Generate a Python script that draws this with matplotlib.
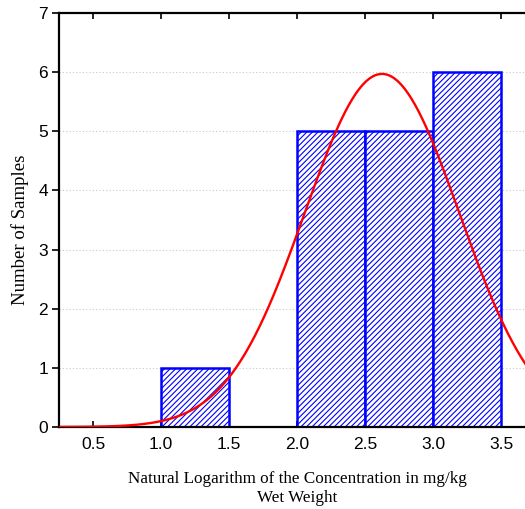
import numpy as np
import matplotlib
matplotlib.use('Agg')
import matplotlib.pyplot as plt

# histogram data
bin_left = [1.0, 2.0, 2.5, 3.0]
counts = [1, 5, 5, 6]
bin_width = 0.5
n_total = 17
# fitted normal curve
mu = 2.625
sigma = 0.568

xticks = [0.5, 1.0, 1.5, 2.0, 2.5, 3.0, 3.5]
yticks = [0, 1, 2, 3, 4, 5, 6, 7]

fig = plt.figure(figsize=(5.25, 5.09), dpi=100)
ax = fig.add_axes([59/525, 82/509, 476/525, 414/509])

plt.rcParams['hatch.color'] = 'blue'
plt.rcParams['hatch.linewidth'] = 0.8

ax.bar(bin_left, counts, width=bin_width, align='edge', facecolor='white',
       edgecolor='blue', linewidth=1.8, hatch='//////', zorder=2)

xs = np.linspace(0.25, 3.75, 400)
ys = n_total * bin_width / (sigma * np.sqrt(2 * np.pi)) * np.exp(-0.5 * ((xs - mu) / sigma) ** 2)
ax.plot(xs, ys, color='red', linewidth=1.7, zorder=3)

ax.set_xlim(0.25, 3.75)
ax.set_ylim(0, 7)
ax.set_xticks(xticks)
ax.set_xticklabels([f'{v:.1f}' for v in xticks], family='Liberation Sans', fontsize=12.5)
ax.set_yticks(yticks)
ax.set_yticklabels([str(v) for v in yticks], family='Liberation Sans', fontsize=12.5)
ax.tick_params(axis='x', direction='in', top=True, length=4, width=1.2, pad=7)
ax.tick_params(axis='y', direction='out', length=5, width=1.2, pad=3)

for y in yticks[1:-1]:
    ax.axhline(y, color='#c8c8c8', linewidth=0.8, linestyle=(0, (1, 2)), zorder=1)

for s in ['left', 'bottom', 'top']:
    ax.spines[s].set_linewidth(1.6)
ax.spines['right'].set_visible(False)

ax.set_xlabel('Natural Logarithm of the Concentration in mg/kg\nWet Weight',
              family='Liberation Serif', fontsize=12.3, labelpad=14, linespacing=1.25)
ax.set_ylabel('Number of Samples', family='Liberation Serif', fontsize=13.5)
ax.yaxis.set_label_coords(-0.062, 0.476)

fig.savefig('out.png', dpi=100)
